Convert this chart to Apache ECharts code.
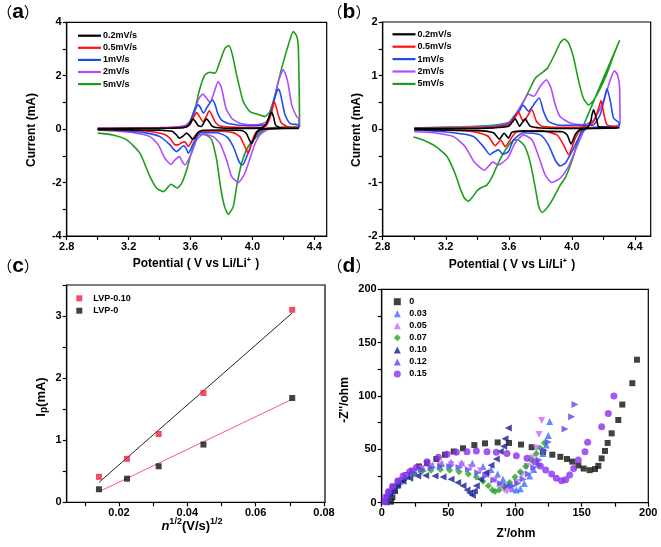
<!DOCTYPE html>
<html><head><meta charset="utf-8">
<script src="https://cdn.jsdelivr.net/npm/echarts@6/dist/echarts.min.js"></script>
<style>html,body{margin:0;padding:0;background:#fff}#c{width:661px;height:547px}</style>
</head><body><div id="c"></div>
<script>
// ---------- Panel (a) CV curves: [potential V, current mA] ----------
const a_02 = [[3.0,0.02],[3.2,0.02],[3.4,0.03],[3.5,0.04],[3.56,0.06],[3.59,0.15],[3.605,0.3],[3.614,0.38],[3.63,0.3],[3.65,0.13],[3.67,0.1],[3.69,0.28],[3.704,0.39],[3.72,0.28],[3.74,0.11],[3.78,0.05],[3.9,0.03],[4.0,0.03],[4.06,0.05],[4.09,0.2],[4.11,0.5],[4.124,0.63],[4.137,0.45],[4.15,0.15],[4.18,0.05],[4.25,0.03],[4.3,0.03],
  [4.3,0.03],[4.15,0.02],[4.06,0.0],[4.03,-0.1],[4.01,-0.35],[3.995,-0.53],[3.98,-0.4],[3.96,-0.15],[3.93,-0.05],[3.8,-0.03],[3.68,-0.04],[3.65,-0.12],[3.63,-0.3],[3.614,-0.38],[3.595,-0.25],[3.575,-0.15],[3.555,-0.24],[3.527,-0.34],[3.51,-0.22],[3.48,-0.08],[3.4,-0.04],[3.2,-0.03],[3.0,-0.02]];
const a_05 = [[3.0,0.02],[3.2,0.03],[3.4,0.04],[3.5,0.05],[3.57,0.08],[3.6,0.2],[3.62,0.45],[3.64,0.62],[3.66,0.45],[3.683,0.28],[3.7,0.45],[3.721,0.69],[3.74,0.5],[3.758,0.28],[3.78,0.14],[3.81,0.1],[3.9,0.07],[4.0,0.06],[4.08,0.08],[4.113,0.41],[4.13,0.8],[4.141,1.03],[4.155,0.8],[4.167,0.53],[4.189,0.22],[4.243,0.06],[4.3,0.05],
  [4.3,0.04],[4.15,0.03],[4.06,0.0],[4.027,-0.09],[4.001,-0.4],[3.973,-0.9],[3.951,-0.65],[3.919,-0.28],[3.876,-0.13],[3.768,-0.07],[3.66,-0.08],[3.635,-0.2],[3.618,-0.34],[3.586,-0.65],[3.564,-0.47],[3.545,-0.5],[3.52,-0.59],[3.5,-0.59],[3.468,-0.34],[3.425,-0.18],[3.295,-0.06],[3.0,-0.01]];
const a_1 = [[3.0,0.02],[3.2,0.03],[3.4,0.05],[3.5,0.06],[3.57,0.1],[3.6,0.3],[3.625,0.7],[3.65,0.91],[3.665,0.8],[3.683,0.6],[3.71,0.85],[3.743,1.09],[3.76,0.9],[3.775,0.6],[3.801,0.34],[3.85,0.2],[3.984,0.13],[4.06,0.15],[4.092,0.2],[4.124,0.78],[4.157,1.4],[4.167,1.5],[4.18,1.35],[4.2,0.8],[4.211,0.53],[4.243,0.22],[4.3,0.15],
  [4.3,0.06],[4.15,0.04],[4.07,0.0],[4.049,-0.07],[4.025,-0.2],[4.006,-0.4],[3.985,-0.7],[3.963,-1.03],[3.937,-1.34],[3.92,-1.28],[3.909,-1.15],[3.876,-0.65],[3.833,-0.28],[3.768,-0.13],[3.661,-0.13],[3.64,-0.3],[3.618,-0.53],[3.586,-0.9],[3.57,-0.7],[3.553,-0.62],[3.53,-0.75],[3.511,-0.84],[3.49,-0.75],[3.468,-0.59],[3.403,-0.28],[3.295,-0.12],[3.145,-0.05],[3.0,-0.0]];
const a_2 = [[3.0,0.02],[3.2,0.04],[3.4,0.06],[3.5,0.08],[3.57,0.15],[3.6,0.3],[3.618,0.45],[3.65,1.09],[3.679,1.31],[3.704,1.16],[3.726,1.0],[3.747,1.28],[3.779,1.78],[3.801,1.53],[3.829,0.78],[3.866,0.41],[3.92,0.22],[4.027,0.16],[4.092,0.28],[4.12,0.6],[4.135,0.91],[4.167,1.78],[4.2,2.22],[4.22,1.95],[4.232,1.66],[4.254,0.91],[4.286,0.47],[4.3,0.4],
  [4.3,0.1],[4.2,0.05],[4.12,0.02],[4.092,-0.03],[4.049,-0.21],[4.02,-0.5],[3.995,-0.9],[3.951,-1.65],[3.909,-2.0],[3.866,-1.78],[3.833,-1.15],[3.79,-0.53],[3.747,-0.28],[3.683,-0.18],[3.64,-0.4],[3.607,-0.9],[3.564,-1.34],[3.545,-1.2],[3.528,-1.03],[3.5,-1.15],[3.474,-1.32],[3.435,-1.1],[3.392,-0.59],[3.338,-0.28],[3.231,-0.13],[3.08,-0.06],[3.0,-0.03]];
const a_5 = [[3.0,0.0],[3.2,0.02],[3.4,0.04],[3.5,0.07],[3.55,0.1],[3.575,0.15],[3.597,0.3],[3.629,0.78],[3.661,1.53],[3.693,2.03],[3.726,2.13],[3.758,2.09],[3.79,2.53],[3.823,3.03],[3.848,3.13],[3.87,2.8],[3.898,2.03],[3.941,1.03],[3.984,0.66],[4.049,0.53],[4.081,0.47],[4.113,0.66],[4.146,1.28],[4.189,2.28],[4.232,3.15],[4.264,3.65],[4.285,3.5],[4.296,3.15],[4.302,1.6],
  [4.305,0.1],[4.2,0.08],[4.12,0.05],[4.092,0.03],[4.06,-0.1],[4.027,-0.28],[3.973,-0.65],[3.93,-1.28],[3.898,-2.15],[3.876,-2.9],[3.844,-3.19],[3.82,-2.9],[3.801,-2.4],[3.785,-1.8],[3.769,-1.15],[3.737,-0.4],[3.71,-0.25],[3.68,-0.2],[3.65,-0.22],[3.618,-0.65],[3.595,-1.1],[3.575,-1.53],[3.545,-2.0],[3.514,-2.21],[3.474,-2.06],[3.424,-2.34],[3.381,-2.21],[3.338,-1.78],[3.273,-0.9],[3.188,-0.4],[3.1,-0.22],[3.0,-0.15]];

// ---------- Panel (b) CV curves ----------
const b_02 = [[3.0,0.01],[3.3,0.01],[3.5,0.02],[3.6,0.05],[3.62,0.12],[3.641,0.19],[3.655,0.12],[3.668,0.05],[3.685,0.12],[3.704,0.19],[3.72,0.12],[3.736,0.05],[3.8,0.02],[4.0,0.01],[4.1,0.03],[4.12,0.15],[4.128,0.27],[4.138,0.36],[4.15,0.25],[4.16,0.14],[4.17,0.04],[4.3,0.02],
  [4.3,0.02],[4.1,0.01],[4.05,-0.02],[4.022,-0.1],[3.995,-0.28],[3.97,-0.11],[3.94,-0.05],[3.7,-0.04],[3.62,-0.06],[3.598,-0.17],[3.57,-0.08],[3.54,-0.19],[3.503,-0.07],[3.4,-0.03],[3.0,-0.015]];
const b_05 = [[3.0,0.01],[3.3,0.02],[3.5,0.03],[3.6,0.08],[3.63,0.18],[3.651,0.27],[3.662,0.31],[3.68,0.2],[3.693,0.14],[3.72,0.25],[3.736,0.33],[3.747,0.36],[3.774,0.15],[3.81,0.05],[4.0,0.03],[4.1,0.05],[4.138,0.14],[4.17,0.39],[4.185,0.53],[4.2,0.33],[4.223,0.08],[4.3,0.03],
  [4.3,0.03],[4.1,0.01],[4.053,-0.02],[4.022,-0.17],[3.979,-0.48],[3.948,-0.3],[3.905,-0.11],[3.8,-0.03],[3.65,-0.05],[3.609,-0.2],[3.577,-0.33],[3.549,-0.21],[3.513,-0.31],[3.47,-0.14],[3.376,-0.05],[3.0,0.0]];
const b_1 = [[3.0,0.01],[3.3,0.02],[3.5,0.04],[3.6,0.1],[3.64,0.25],[3.672,0.36],[3.689,0.45],[3.705,0.4],[3.725,0.33],[3.75,0.42],[3.768,0.5],[3.793,0.58],[3.82,0.33],[3.852,0.14],[3.926,0.07],[4.1,0.07],[4.138,0.08],[4.18,0.27],[4.212,0.64],[4.223,0.75],[4.244,0.52],[4.265,0.2],[4.3,0.11],
  [4.3,0.05],[4.1,0.02],[4.064,-0.05],[4.011,-0.36],[3.958,-0.64],[3.926,-0.69],[3.894,-0.58],[3.852,-0.3],[3.8,-0.11],[3.693,-0.07],[3.63,-0.2],[3.598,-0.42],[3.562,-0.47],[3.534,-0.39],[3.5,-0.44],[3.481,-0.48],[3.439,-0.33],[3.376,-0.14],[3.248,-0.07],[3.0,-0.015]];
const b_2 = [[3.0,0.01],[3.3,0.03],[3.5,0.05],[3.6,0.12],[3.65,0.3],[3.693,0.52],[3.725,0.65],[3.757,0.61],[3.8,0.8],[3.838,0.92],[3.867,0.77],[3.895,0.45],[3.926,0.23],[3.99,0.11],[4.074,0.08],[4.138,0.17],[4.2,0.52],[4.244,0.92],[4.27,1.09],[4.29,1.01],[4.303,0.77],
  [4.305,0.1],[4.1,0.02],[4.074,-0.05],[4.032,-0.33],[3.979,-0.7],[3.926,-0.92],[3.874,-1.0],[3.831,-0.86],[3.789,-0.51],[3.747,-0.2],[3.693,-0.11],[3.64,-0.26],[3.598,-0.52],[3.556,-0.64],[3.535,-0.67],[3.499,-0.62],[3.444,-0.77],[3.41,-0.7],[3.376,-0.6],[3.323,-0.33],[3.248,-0.14],[3.121,-0.07],[3.0,-0.05]];
const b_5 = [[3.0,0.02],[3.3,0.04],[3.5,0.07],[3.588,0.11],[3.609,0.15],[3.641,0.27],[3.683,0.45],[3.725,0.7],[3.768,0.95],[3.81,1.05],[3.846,1.14],[3.895,1.42],[3.926,1.61],[3.952,1.68],[3.979,1.61],[4.011,1.33],[4.043,0.89],[4.074,0.57],[4.106,0.45],[4.138,0.54],[4.18,0.76],[4.223,1.04],[4.265,1.38],[4.303,1.66],
  [4.2,0.95],[4.1,0.25],[4.064,0.0],[4.03,-0.3],[4.0,-0.6],[3.96,-0.9],[3.926,-1.05],[3.89,-1.25],[3.863,-1.39],[3.835,-1.5],[3.81,-1.56],[3.79,-1.45],[3.768,-1.1],[3.745,-0.75],[3.725,-0.51],[3.7,-0.32],[3.672,-0.23],[3.65,-0.2],[3.63,-0.21],[3.6,-0.3],[3.56,-0.48],[3.524,-0.7],[3.49,-0.92],[3.46,-1.05],[3.429,-1.09],[3.4,-1.15],[3.37,-1.27],[3.344,-1.35],[3.32,-1.3],[3.29,-1.1],[3.27,-0.92],[3.24,-0.7],[3.207,-0.51],[3.16,-0.38],[3.122,-0.3],[3.06,-0.21],[2.995,-0.15]];

// ---------- Panel (c) peak current vs sqrt(scan rate) ----------
const c_x = [0.01414, 0.02236, 0.03162, 0.04472, 0.07071];
const c_lvp010 = [0.41, 0.70, 1.10, 1.76, 3.10];
const c_lvp0 = [0.21, 0.38, 0.58, 0.93, 1.68];
const c_fit010 = [[0.01414, 0.32], [0.07071, 3.05]];
const c_fit0 = [[0.01414, 0.17], [0.07071, 1.66]];

// ---------- Panel (d) Nyquist plots [Z', -Z''] ----------
const d_0 = [[7,1],[8,5],[10,11],[12,16],[15,21],[19,26],[23,30],[28,34],[34,37],[41,41],[47.5,45],[54,48],[61,51],[69.5,54],[77.5,55.6],[87,56.5],[95.5,56],[104.5,54.5],[112.5,52],[121,47.5],[128,45],[134,43],[139,41],[143,38.5],[147.5,35],[151.5,32],[156,30.5],[160,31.5],[162.5,34.5],[165,41.5],[167.5,48.5],[169.5,56],[172.5,65],[177.5,77.5],[180.5,92],[188,112],[191.5,134]];
const d_003 = [[4,1],[5,5],[7,10],[10,15],[14,20],[19,25],[25,29],[31,32],[38,35],[45,37],[52,38],[60,37.5],[68,37],[76,34],[82,31],[87,27],[91,22],[95,17],[98,13],[101,12],[104,13],[107,18],[111,25],[114,31],[117.5,37],[121,46],[123.5,54],[125,63],[126,76]];
const d_005 = [[3,1],[4,5],[6,10],[9,15],[13,20],[18,25],[24,29],[30,32],[37,34],[44,35],[52,35.5],[60,35],[67,33],[74,30],[80,26],[85,21],[89,16],[92,12],[94,10.5],[97,13],[101,19],[105,26],[109,34],[113,42],[116,51],[118,64],[120,77]];
const d_007 = [[3,1],[4,5],[6,10],[9,15],[13,19],[18,23],[24,27],[30,29],[37,30.5],[44,31],[51,30.5],[58,29],[65,27],[71,24],[76,20],[80,16],[83,12],[85,10.5],[88,12],[92,15],[96,19],[100,24],[104,29],[108,34],[112,40],[116,46],[119,51],[122,56]];
const d_010 = [[3,1],[4,5],[6,9],[9,13],[12,17],[16,20],[21,23],[27,25],[33,25.5],[40,25],[46,24],[52,22],[57,19],[61,16],[64,12],[66,9],[68,7],[69.5,11],[71,16],[74,22],[78,28],[82,35],[86,41],[89,48],[91.5,53],[92.5,60],[95,70]];
const d_012 = [[3,1],[4,5],[6,10],[9,15],[13,20],[18,24],[24,28],[30,31],[37,33],[44,34],[51,34],[58,33],[65,31],[72,28],[78,25],[84,21],[89,18],[94,16],[98,16],[102,18],[106,22],[110,27],[114,33],[118,40],[122,49],[125,57],[137.5,69],[142.5,80.5],[145,92]];
const d_015 = [[2.5,1],[3,5],[5,10],[8,15],[12,20],[16,25],[21,29],[26,33],[34,38.4],[42.5,42.5],[49,45.3],[56,47.2],[64,47.8],[71,48.4],[79,47.8],[86,47.2],[94,46.2],[101,44],[109,41.6],[115,38.4],[119,34.4],[123,30.6],[127.5,26.9],[131,22.8],[135,20.6],[138,21.5],[141,26],[144,32],[147.5,40],[152.5,47.8],[154.5,56.6],[165,71.2],[170,83.7],[174.2,100]];

// tick / label values
const a_xticks = [2.8,3.0,3.2,3.4,3.6,3.8,4.0,4.2,4.4];
const a_xlabels = [2.8,3.2,3.6,4.0,4.4];
const a_yticks = [-4,-3,-2,-1,0,1,2,3,4];
const a_ylabels = [-4,-2,0,2,4];
const b_yticks = [-2,-1.5,-1,-0.5,0,0.5,1,1.5,2];
const b_ylabels = [-2,-1,0,1,2];
const c_xticks = [0.01,0.02,0.03,0.04,0.05,0.06,0.07,0.08];
const c_xlabels = [0.02,0.04,0.06,0.08];
const c_yticks = [0,0.5,1,1.5,2,2.5,3,3.5];
const c_ylabels = [0,1,2,3];
const d_ticks = [0,25,50,75,100,125,150,175,200];
const d_labels = [0,50,100,150,200];

const cvNames = ['0.2mV/s','0.5mV/s','1mV/s','2mV/s','5mV/s'];
const cvColors = ['#000000','#ff1010','#1e4cf2','#b04cff','#1c9e1c'];
const nyNames = ['0','0.03','0.05','0.07','0.10','0.12','0.15'];

const FONT = '"Liberation Sans", Arial, sans-serif';

function xAx(gi, min, max, ticks, labels, fmt) {
  return {type:'value', gridIndex:gi, min:min, max:max,
    axisLine:{show:true, onZero:false, lineStyle:{color:'#000', width:1.2}},
    axisTick:{show:true, inside:false, length:4, customValues:ticks, lineStyle:{color:'#000', width:1.2}},
    axisLabel:{customValues:labels, formatter:fmt, color:'#000', fontWeight:'bold', fontSize:11, fontFamily:FONT, margin:5},
    splitLine:{show:false}};
}
function yAx(gi, min, max, ticks, labels, fmt) {
  return {type:'value', gridIndex:gi, min:min, max:max,
    axisLine:{show:true, onZero:false, lineStyle:{color:'#000', width:1.2}},
    axisTick:{show:true, inside:false, length:4, customValues:ticks, lineStyle:{color:'#000', width:1.2}},
    axisLabel:{customValues:labels, formatter:fmt, color:'#000', fontWeight:'bold', fontSize:11, fontFamily:FONT, margin:5},
    splitLine:{show:false}};
}
const gridBase = {show:true, borderColor:'#000', borderWidth:1.2, backgroundColor:'transparent', containLabel:false};

const series = [];
const aData = [a_02,a_05,a_1,a_2,a_5];
const bData = [b_02,b_05,b_1,b_2,b_5];
for (let k = 4; k >= 0; k--) {
  series.push({type:'line', name:cvNames[k], xAxisIndex:0, yAxisIndex:0, data:aData[k], symbol:'none', showSymbol:false, smooth:0.2,
    lineStyle:{color:cvColors[k], width:1.6}, itemStyle:{color:cvColors[k]}});
  series.push({type:'line', name:cvNames[k], xAxisIndex:1, yAxisIndex:1, data:bData[k], symbol:'none', showSymbol:false, smooth:0.2,
    lineStyle:{color:cvColors[k], width:1.6}, itemStyle:{color:cvColors[k]}});
}
// panel c
series.push({type:'line', name:'fit010', xAxisIndex:2, yAxisIndex:2, data:c_fit010, symbol:'none', lineStyle:{color:'#222', width:1}, z:2});
series.push({type:'line', name:'fit0', xAxisIndex:2, yAxisIndex:2, data:c_fit0, symbol:'none', lineStyle:{color:'#ff5588', width:1}, z:2});
series.push({type:'scatter', name:'LVP-0.10', xAxisIndex:2, yAxisIndex:2, data:c_x.map((x,i)=>[x,c_lvp010[i]]), symbol:'rect', symbolSize:6, itemStyle:{color:'#f0203c'}, z:3});
series.push({type:'scatter', name:'LVP-0', xAxisIndex:2, yAxisIndex:2, data:c_x.map((x,i)=>[x,c_lvp0[i]]), symbol:'rect', symbolSize:6, itemStyle:{color:'#111'}, z:3});
// panel d
const nyData = [d_0,d_003,d_005,d_007,d_010,d_012,d_015];
const nySym = [['rect',0,6],['triangle',0,7],['triangle',180,7],['diamond',0,7],['triangle',90,7],['triangle',-90,7],['circle',0,7]];
const nyCol = ['#111111','#3a6ef2','#cc66ff','#2aa02a','#1a1a96','#5a48f0','#8a30ee'];
for (let k = 0; k < 7; k++) {
  series.push({type:'scatter', name:nyNames[k], xAxisIndex:3, yAxisIndex:3, data:nyData[k], symbol:nySym[k][0], symbolRotate:nySym[k][1], symbolSize:nySym[k][2], itemStyle:{color:nyCol[k]}});
}

const legendText = {color:'#000', fontWeight:'bold', fontSize:9, fontFamily:FONT, lineHeight:12};
const option = {
  animation:false,
  backgroundColor:'#fff',
  grid:[
    Object.assign({left:66.7, top:22.3, width:260, height:213.7}, gridBase),
    Object.assign({left:382.7, top:22, width:268, height:214}, gridBase),
    Object.assign({left:66.7, top:285, width:258.3, height:217.3}, gridBase),
    Object.assign({left:381.7, top:289.3, width:266.6, height:213.4}, gridBase)
  ],
  xAxis:[
    xAx(0, 2.8, 4.48, a_xticks, a_xlabels, v=>(+v).toFixed(1)),
    xAx(1, 2.8, 4.5, a_xticks, a_xlabels, v=>(+v).toFixed(1)),
    xAx(2, 0.0047, 0.0803, c_xticks, c_xlabels, v=>(+v).toFixed(2)),
    xAx(3, 0, 200, d_ticks, d_labels, v=>String(Math.round(v)))
  ],
  yAxis:[
    yAx(0, -4, 4, a_yticks, a_ylabels, v=>String(Math.round(v))),
    yAx(1, -2, 2, b_yticks, b_ylabels, v=>String(Math.round(v))),
    yAx(2, 0, 3.5, c_yticks, c_ylabels, v=>String(Math.round(v))),
    yAx(3, 0, 200, d_ticks, d_labels, v=>String(Math.round(v)))
  ],
  legend:[
    {data:cvNames, orient:'vertical', left:78, top:29.7, icon:'rect', itemWidth:23, itemHeight:2.2, itemGap:0.1, padding:0, textStyle:Object.assign({padding:[0,0,0,-3]}, legendText), selectedMode:false},
    {data:cvNames, orient:'vertical', left:392.5, top:28.3, icon:'rect', itemWidth:23, itemHeight:2.2, itemGap:0.4, padding:0, textStyle:Object.assign({padding:[0,0,0,-3]}, legendText), selectedMode:false},
    {data:['LVP-0.10','LVP-0'], orient:'vertical', left:76.3, top:292.3, itemWidth:6, itemHeight:6, itemGap:0.4, padding:0, textStyle:Object.assign({padding:[0,0,0,6]}, legendText), selectedMode:false},
    {data:nyNames, orient:'vertical', left:393.8, top:295.7, itemWidth:7, itemHeight:7, itemGap:0.05, padding:0, textStyle:Object.assign({padding:[0,0,0,3.5]}, legendText), selectedMode:false}
  ],
  graphic:[
    {type:'text', x:18, y:12, style:{text:'{p|（}{l|a}{p|）}', textAlign:'center', textVerticalAlign:'middle', align:'center', verticalAlign:'middle',
      rich:{p:{fontSize:15, fontFamily:'"Noto Sans CJK SC"', fill:'#000'}, l:{fontSize:21, fontWeight:'bold', fontFamily:FONT, fill:'#000'}}}},
    {type:'text', x:349, y:12, style:{text:'{p|（}{l|b}{p|）}', textAlign:'center', textVerticalAlign:'middle', align:'center', verticalAlign:'middle',
      rich:{p:{fontSize:15, fontFamily:'"Noto Sans CJK SC"', fill:'#000'}, l:{fontSize:21, fontWeight:'bold', fontFamily:FONT, fill:'#000'}}}},
    {type:'text', x:18, y:266, style:{text:'{p|（}{l|c}{p|）}', textAlign:'center', textVerticalAlign:'middle', align:'center', verticalAlign:'middle',
      rich:{p:{fontSize:15, fontFamily:'"Noto Sans CJK SC"', fill:'#000'}, l:{fontSize:21, fontWeight:'bold', fontFamily:FONT, fill:'#000'}}}},
    {type:'text', x:349, y:266, style:{text:'{p|（}{l|d}{p|）}', textAlign:'center', textVerticalAlign:'middle', align:'center', verticalAlign:'middle',
      rich:{p:{fontSize:15, fontFamily:'"Noto Sans CJK SC"', fill:'#000'}, l:{fontSize:21, fontWeight:'bold', fontFamily:FONT, fill:'#000'}}}},
    // axis titles
    {type:'text', x:32, y:130, rotation:Math.PI/2, style:{text:'Current (mA)', font:'bold 12px '+FONT, fill:'#000', textAlign:'center', textVerticalAlign:'middle', align:'center', verticalAlign:'middle'}},
    {type:'text', x:357, y:130, rotation:Math.PI/2, style:{text:'Current (mA)', font:'bold 12px '+FONT, fill:'#000', textAlign:'center', textVerticalAlign:'middle', align:'center', verticalAlign:'middle'}},
    {type:'text', x:196, y:264, style:{text:'{n|Potential ( V vs Li/Li}{s|+}{n| )}', textAlign:'center', textVerticalAlign:'middle', align:'center', verticalAlign:'middle',
      rich:{n:{fontSize:12, fontWeight:'bold', fontFamily:FONT, fill:'#000', lineHeight:14}, s:{fontSize:7, fontWeight:'bold', fontFamily:FONT, fill:'#000', verticalAlign:'top', lineHeight:14, padding:[0,1,0,0]}}}},
    {type:'text', x:512, y:265, style:{text:'{n|Potential ( V vs Li/Li}{s|+}{n| )}', textAlign:'center', textVerticalAlign:'middle', align:'center', verticalAlign:'middle',
      rich:{n:{fontSize:12, fontWeight:'bold', fontFamily:FONT, fill:'#000', lineHeight:14}, s:{fontSize:7, fontWeight:'bold', fontFamily:FONT, fill:'#000', verticalAlign:'top', lineHeight:14, padding:[0,1,0,0]}}}},
    {type:'text', x:41, y:397, rotation:Math.PI/2, style:{text:'{n|I}{s|p}{n|(mA)}', textAlign:'center', textVerticalAlign:'middle', align:'center', verticalAlign:'middle',
      rich:{n:{fontSize:13, fontWeight:'bold', fontFamily:FONT, fill:'#000', lineHeight:16}, s:{fontSize:10, fontWeight:'bold', fontFamily:FONT, fill:'#000', verticalAlign:'bottom', lineHeight:16}}}},
    {type:'text', x:192, y:526, style:{text:'{i|n}{s|1/2}{n|(V/s)}{s|1/2}', textAlign:'center', textVerticalAlign:'middle', align:'center', verticalAlign:'middle',
      rich:{i:{fontSize:13, fontWeight:'bold', fontStyle:'italic', fontFamily:FONT, fill:'#000', lineHeight:18}, n:{fontSize:13, fontWeight:'bold', fontFamily:FONT, fill:'#000', lineHeight:18}, s:{fontSize:9, fontWeight:'bold', fontFamily:FONT, fill:'#000', verticalAlign:'top', lineHeight:18}}}},
    {type:'text', x:345, y:400, rotation:Math.PI/2, style:{text:"-Z''/ohm", font:'bold 12px '+FONT, fill:'#000', textAlign:'center', textVerticalAlign:'middle', align:'center', verticalAlign:'middle'}},
    {type:'text', x:516, y:534, style:{text:"Z'/ohm", font:'bold 12px '+FONT, fill:'#000', textAlign:'center', textVerticalAlign:'middle', align:'center', verticalAlign:'middle'}}
  ],
  series:series
};
const chart = echarts.init(document.getElementById('c'), null, {renderer:'canvas'});
chart.setOption(option);
</script>
</body></html>
